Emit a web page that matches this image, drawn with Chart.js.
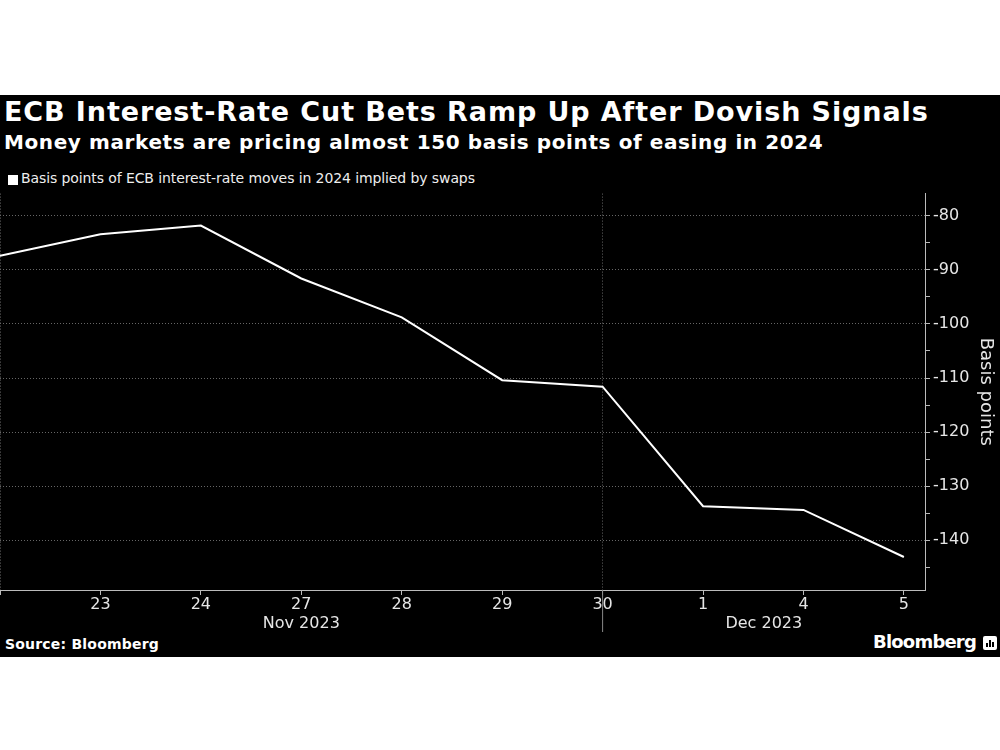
<!DOCTYPE html>
<html>
<head>
<meta charset="utf-8">
<script src="https://cdn.jsdelivr.net/npm/chart.js@4"></script>
<style>
  body { margin: 0; background: #fff; width: 1000px; height: 750px; overflow: hidden; font-family: "DejaVu Sans", sans-serif; }
  #panel { position: absolute; left: 0; top: 95px; width: 1000px; height: 562px; background: #000; }
  .txt { position: absolute; color: #fff; white-space: nowrap; }
  #title { left: 4px; top: 96px; font-size: 27px; font-weight: bold; letter-spacing: 0.9px; }
  #subtitle { left: 4px; top: 130px; font-size: 20px; font-weight: bold; letter-spacing: 0.6px; }
  #legend { left: 21px; top: 170px; font-size: 14px; color: #eee; letter-spacing: -0.1px; }
  #legendBox { position: absolute; left: 8px; top: 175px; width: 10px; height: 10px; background: #fff; }
  #source { left: 5px; top: 636px; font-size: 14px; font-weight: bold; letter-spacing: 0.2px; }
  #brand { left: 873px; top: 631px; font-size: 18px; font-weight: bold; letter-spacing: -0.8px; }
  #logo { position: absolute; left: 983px; top: 636px; width: 14px; height: 14px; background: #fff; border-radius: 2px; }
  #logo i { position: absolute; bottom: 3px; width: 2px; background: #000; }
  #wrap { position: absolute; left: 0; top: 181px; width: 1000px; height: 459px; }
</style>
</head>
<body>
<div id="panel"></div>
<div id="title" class="txt">ECB Interest-Rate Cut Bets Ramp Up After Dovish Signals</div>
<div id="subtitle" class="txt">Money markets are pricing almost 150 basis points of easing in 2024</div>
<div id="legendBox"></div>
<div id="legend" class="txt">Basis points of ECB interest-rate moves in 2024 implied by swaps</div>
<div id="source" class="txt">Source: Bloomberg</div>
<div id="brand" class="txt">Bloomberg</div>
<div id="logo"><i style="left:3px;height:4px"></i><i style="left:6px;height:7px"></i><i style="left:9px;height:5px"></i></div>
<div id="wrap"><canvas id="chart" width="1000" height="459"></canvas></div>
<script>
// trading days, 22 Nov - 5 Dec 2023
const dayLabels = ['22', '23', '24', '27', '28', '29', '30', '1', '4', '5'];
const swapBps = [-87.4, -83.4, -81.8, -91.6, -98.8, -110.4, -111.6, -133.7, -134.4, -143.1];
const yTickValues = [-145, -140, -135, -130, -125, -120, -115, -110, -105, -100, -95, -90, -85, -80];
const monthLabels = ['Nov 2023', 'Dec 2023'];
const monthBreak = 6; // index of 30 Nov, where the month divider sits

const monthPlugin = {
    id: 'months',
    afterDraw(chart) {
        const ctx = chart.ctx;
        const x = chart.scales.x;
        const area = chart.chartArea;
        const xb = x.getPixelForValue(monthBreak);

        ctx.save();
        ctx.strokeStyle = '#888';
        ctx.lineWidth = 1;
        ctx.beginPath();
        ctx.moveTo(xb, area.bottom);
        ctx.lineTo(xb, area.bottom + 42);
        ctx.stroke();

        ctx.fillStyle = '#e6e6e6';
        ctx.font = '16px "DejaVu Sans"';
        ctx.textAlign = 'center';
        ctx.textBaseline = 'middle';
        ctx.fillText(monthLabels[0], (area.left + xb) / 2, area.bottom + 34);
        ctx.fillText(monthLabels[1], (xb + area.right) / 2, area.bottom + 34);
        ctx.restore();
    }
};

new Chart(document.getElementById('chart'), {
    type: 'line',
    data: {
        datasets: [{
            data: swapBps.map((v, i) => ({ x: i, y: v })),
            borderColor: '#fff',
            borderWidth: 2,
            pointRadius: 0,
            tension: 0
        }]
    },
    options: {
        responsive: false,
        animation: false,
        layout: { padding: 0 },
        plugins: {
            legend: { display: false },
            tooltip: { enabled: false }
        },
        scales: {
            x: {
                type: 'linear',
                min: 0,
                max: 9.21,
                afterBuildTicks: s => { s.ticks = dayLabels.map((d, i) => ({ value: i })); },
                afterFit: s => { s.height = 50; },
                ticks: {
                    color: '#e6e6e6',
                    font: { family: 'DejaVu Sans', size: 16 },
                    padding: 0,
                    maxRotation: 0,
                    autoSkip: false,
                    callback: v => (v === 0 ? '' : dayLabels[v])
                },
                grid: {
                    color: c => (c.tick && (c.tick.value === 0 || c.tick.value === monthBreak) ? '#666' : 'rgba(0,0,0,0)'),
                    tickColor: '#bbb',
                    tickLength: 5
                },
                border: { color: '#bbb', width: 1, dash: [1, 2] }
            },
            y: {
                position: 'right',
                min: -149.2,
                max: -75.9,
                afterBuildTicks: s => { s.ticks = yTickValues.map(v => ({ value: v })); },
                afterFit: s => { s.width = 75; },
                ticks: {
                    color: '#e6e6e6',
                    font: { family: 'DejaVu Sans', size: 16 },
                    padding: 3,
                    callback: v => (v % 10 === 0 ? String(v) : '')
                },
                grid: {
                    color: c => (c.tick && c.tick.value % 10 === 0 ? '#666' : 'rgba(0,0,0,0)'),
                    tickColor: '#bbb',
                    tickLength: 5
                },
                border: { color: '#bbb', width: 1, dash: [1, 2] },
                title: {
                    display: true,
                    text: 'Basis points',
                    color: '#e6e6e6',
                    font: { family: 'DejaVu Sans', size: 18 },
                    padding: 4
                }
            }
        }
    },
    plugins: [monthPlugin]
});
</script>
</body>
</html>
